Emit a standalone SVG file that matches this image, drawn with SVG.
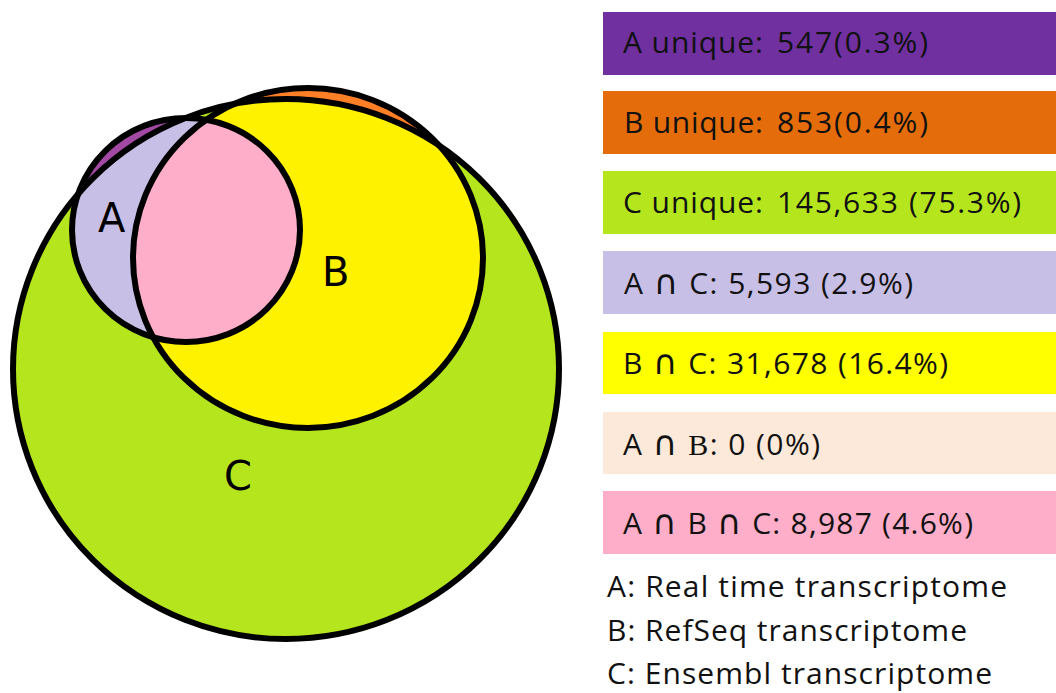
<svg xmlns="http://www.w3.org/2000/svg" width="1056" height="693" viewBox="0 0 1056 693">
  <style>
    .outline { fill: none; stroke: #000; stroke-width: 6; }
    .vlabel { font-family: "DejaVu Sans", sans-serif; font-size: 40px; fill: #000; }
    .key { font-family: "Open Sans", "DejaVu Sans", sans-serif; font-size: 30px; fill: #111; }
    .serif { font-family: "Liberation Serif", serif; }
    .cap { font-family: "DejaVu Sans", sans-serif; font-size: 34px; }
  </style>
  <defs>
    <!-- set outlines: A (real time), B (RefSeq), C (Ensembl) -->
    <ellipse id="shape-a" cx="186" cy="230" rx="114" ry="112"/>
    <ellipse id="shape-b" cx="308" cy="258" rx="175" ry="170"/>
    <ellipse id="shape-c" cx="286" cy="369" rx="273" ry="270"/>
    <clipPath id="clip-b"><use href="#shape-b"/></clipPath>
    <clipPath id="clip-c"><use href="#shape-c"/></clipPath>
  </defs>

  <rect width="1056" height="693" fill="#fff"/>

  <!-- Venn regions, painted back to front -->
  <g id="venn">
    <g id="set-b"><use href="#shape-b" fill="#FF7F27"/></g>
    <g id="set-a"><use href="#shape-a" fill="#A349A4"/></g>
    <g id="set-c"><use href="#shape-c" fill="#B5E61D"/></g>
    <g id="region-ac"><use href="#shape-a" fill="#C8BFE7" clip-path="url(#clip-c)"/></g>
    <g id="region-bc"><use href="#shape-b" fill="#FFF200" clip-path="url(#clip-c)"/></g>
    <g id="region-abc"><use href="#shape-a" fill="#FFAEC9" clip-path="url(#clip-b)"/></g>
    <g id="outlines">
      <use href="#shape-c" class="outline"/>
      <use href="#shape-b" class="outline"/>
      <use href="#shape-a" class="outline"/>
    </g>
    <text class="vlabel" x="98" y="232">A</text>
    <text class="vlabel" x="322" y="286">B</text>
    <text class="vlabel" x="224" y="490">C</text>
  </g>

  <!-- legend -->
  <g id="key-a-unique">
    <rect x="603" y="12" width="460" height="63" fill="#7030A0"/>
    <text class="key" y="53"><tspan x="623" textLength="140">A unique:</tspan><tspan x="777" textLength="151">547(0.3%)</tspan></text>
  </g>
  <g id="key-b-unique">
    <rect x="603" y="91" width="460" height="63" fill="#E46C0A"/>
    <text class="key" y="133"><tspan x="624" textLength="139">B unique:</tspan><tspan x="777" textLength="151">853(0.4%)</tspan></text>
  </g>
  <g id="key-c-unique">
    <rect x="603" y="171" width="460" height="63" fill="#B5E61D"/>
    <text class="key" y="213"><tspan x="623" textLength="140">C unique:</tspan><tspan x="777" textLength="244">145,633 (75.3%)</tspan></text>
  </g>
  <g id="key-ac">
    <rect x="603" y="251" width="460" height="63" fill="#C8BFE7"/>
    <text class="key" x="624" y="294" textLength="289">A <tspan class="cap">∩</tspan> C: 5,593 (2.9%)</text>
  </g>
  <g id="key-bc">
    <rect x="603" y="332" width="460" height="62" fill="#FFFF00"/>
    <text class="key" x="623" y="374" textLength="325">B <tspan class="cap">∩</tspan> C: 31,678 (16.4%)</text>
  </g>
  <g id="key-ab">
    <rect x="603" y="412" width="460" height="62" fill="#FDE9D9"/>
    <text class="key" x="623" y="455" textLength="197">A <tspan class="cap">∩</tspan> <tspan class="serif">B</tspan>: 0 (0%)</text>
  </g>
  <g id="key-abc">
    <rect x="603" y="491" width="460" height="63" fill="#FFAEC9"/>
    <text class="key" x="623" y="534" textLength="350">A <tspan class="cap">∩</tspan> B <tspan class="cap">∩</tspan> C: 8,987 (4.6%)</text>
  </g>
  <g id="key-names">
    <text class="key" x="607" y="597" textLength="400">A: Real time transcriptome</text>
    <text class="key" x="607" y="641" textLength="360">B: RefSeq transcriptome</text>
    <text class="key" x="607" y="684" textLength="385">C: Ensembl transcriptome</text>
  </g>
</svg>
